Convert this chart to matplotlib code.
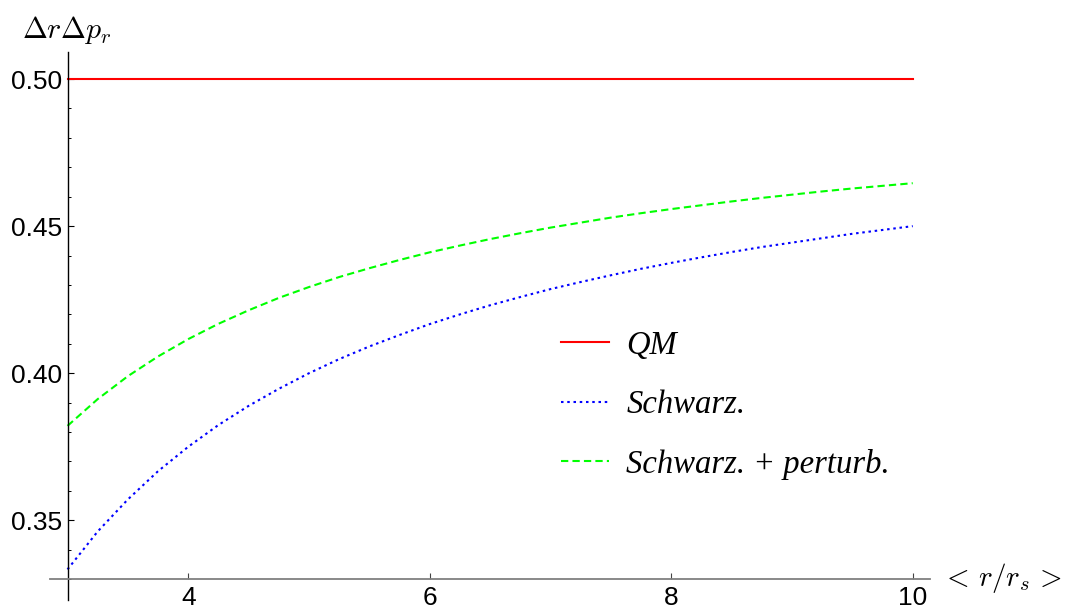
import matplotlib
matplotlib.use("Agg")
import matplotlib.pyplot as plt
from matplotlib.ticker import MultipleLocator

# Data
r_vals = [3.0, 3.25, 3.5, 3.75, 4.0, 4.25, 4.5, 4.75, 5.0, 5.25, 5.5, 5.75, 6.0, 6.25, 6.5,
          6.75, 7.0, 7.25, 7.5, 7.75, 8.0, 8.25, 8.5, 8.75, 9.0, 9.25, 9.5, 9.75, 10.0]
qm_vals = [0.5] * len(r_vals)
schwarz_vals = [0.3333, 0.3462, 0.3571, 0.3667, 0.3750, 0.3824, 0.3889, 0.3947, 0.4000,
                0.4048, 0.4091, 0.4130, 0.4167, 0.4200, 0.4231, 0.4259, 0.4286, 0.4310,
                0.4333, 0.4355, 0.4375, 0.4394, 0.4412, 0.4429, 0.4444, 0.4459, 0.4474,
                0.4487, 0.4500]
perturb_vals = [0.3821, 0.3912, 0.3990, 0.4057, 0.4116, 0.4168, 0.4214, 0.4256, 0.4293,
                0.4327, 0.4357, 0.4385, 0.4411, 0.4434, 0.4456, 0.4476, 0.4495, 0.4512,
                0.4529, 0.4544, 0.4558, 0.4571, 0.4584, 0.4596, 0.4607, 0.4618, 0.4628,
                0.4637, 0.4646]
labels = ["QM", "Schwarz.", "Schwarz. + perturb."]
x_ticks = [4, 6, 8, 10]
y_ticks = [0.35, 0.40, 0.45, 0.50]

plt.rcParams['mathtext.fontset'] = 'cm'

fig = plt.figure(figsize=(10.67, 6.08), dpi=100)
ax = fig.add_axes([50/1067, 1 - 600/608, 880/1067, 548/608])
ax.set_xlim(2.855, 10.143)
ax.set_ylim(0.3229, 0.5092)

ax.plot(r_vals, qm_vals, color=(1, 0, 0), lw=1.5, label=labels[0])
ax.plot(r_vals, schwarz_vals, color=(0, 0, 1), lw=1.5, linestyle=(0, (1.2, 1.8)), label=labels[1])
ax.plot(r_vals, perturb_vals, color=(0, 1, 0), lw=1.5, linestyle=(0, (3.5, 2.0)), label=labels[2])

for s in ['top', 'right']:
    ax.spines[s].set_visible(False)
ax.spines['left'].set_position(('data', 3))
ax.spines['bottom'].set_position(('data', 0.33))
ax.spines['left'].set_color('black')
ax.spines['bottom'].set_color('#808080')
ax.spines['left'].set_linewidth(1.0)
ax.spines['bottom'].set_linewidth(1.3)

ax.set_xticks(x_ticks)
ax.set_xticklabels([str(t) for t in x_ticks])
ax.set_yticks(y_ticks)
ax.set_yticklabels([f"{t:.2f}" for t in y_ticks])
ax.yaxis.set_minor_locator(MultipleLocator(0.01))
ax.tick_params(axis='x', direction='in', length=4, width=0.8, color='#444444',
               labelsize=19, pad=5)
ax.tick_params(axis='y', which='major', direction='in', length=4, width=0.8,
               labelsize=19, pad=4)
ax.tick_params(axis='y', which='minor', direction='in', length=2.5, width=0.7)
for lab in ax.get_xticklabels() + ax.get_yticklabels():
    lab.set_fontfamily('Liberation Sans')

fig.text(22/1067, 1 - 30/608, r'$\Delta r\Delta p_r$', fontsize=21.5, va='center', ha='left')
fig.text(941/1067, 1 - 578/608, r'$<\,r/r_s\,>$', fontsize=21, va='center', ha='left')

leg = ax.legend(loc='upper left', bbox_to_anchor=(532/1067, 1 - 301/608),
                bbox_transform=fig.transFigure, frameon=False,
                prop={'family': 'Liberation Serif', 'style': 'italic', 'size': 23.5},
                handlelength=1.47, handletextpad=0.52, labelspacing=0.88)

fig.savefig("out.png", dpi=100)
